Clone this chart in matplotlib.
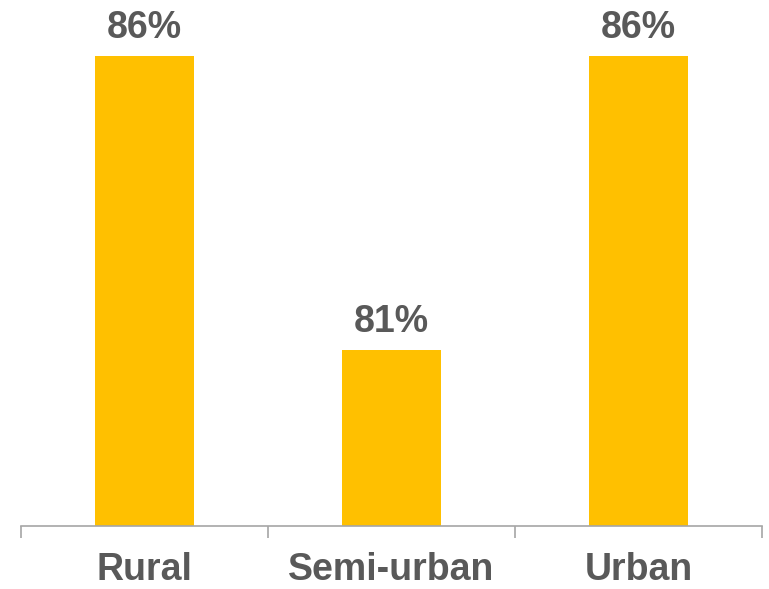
import matplotlib.pyplot as plt
import numpy as np

# Share of respondents by area type
categories = ['Rural', 'Semi-urban', 'Urban']
values = [86, 81, 86]

bar_color = '#FFC000'
text_color = '#595959'
axis_color = '#A6A6A6'

plt.rcParams['font.family'] = ['Liberation Sans', 'DejaVu Sans']

fig = plt.figure(figsize=(7.69, 5.89), dpi=100)
ax = fig.add_axes([0.027, 0.107, 0.964, 0.893])

x = np.arange(len(categories))
bars = ax.bar(x, values, width=0.4, color=bar_color, zorder=2)

# value labels above each bar
for xi, v in zip(x, values):
    ax.annotate(f'{v}%', xy=(xi, v), xytext=(0, 13), textcoords='offset points',
                ha='center', va='baseline', fontsize=27, fontweight='bold',
                color=text_color, annotation_clip=False)

ax.set_xlim(-0.5, len(categories) - 0.5)
ax.set_ylim(78, 86.95)

# boundary ticks between categories, labels at the centres
ax.set_xticks(np.arange(len(categories) + 1) - 0.5)
ax.set_xticklabels([])
ax.tick_params(axis='x', which='major', length=8.5, width=1.2, color=axis_color)
ax.set_xticks(x, minor=True)
ax.set_xticklabels(categories, minor=True)
ax.tick_params(axis='x', which='minor', length=0, pad=19, labelsize=27,
               labelcolor=text_color)
for lbl in ax.get_xticklabels(minor=True):
    lbl.set_fontweight('bold')

ax.set_yticks([])
for side in ['top', 'right', 'left']:
    ax.spines[side].set_visible(False)
ax.spines['bottom'].set_color(axis_color)
ax.spines['bottom'].set_linewidth(1.2)
ax.patch.set_alpha(0)

fig.savefig('out.png', dpi=100)
